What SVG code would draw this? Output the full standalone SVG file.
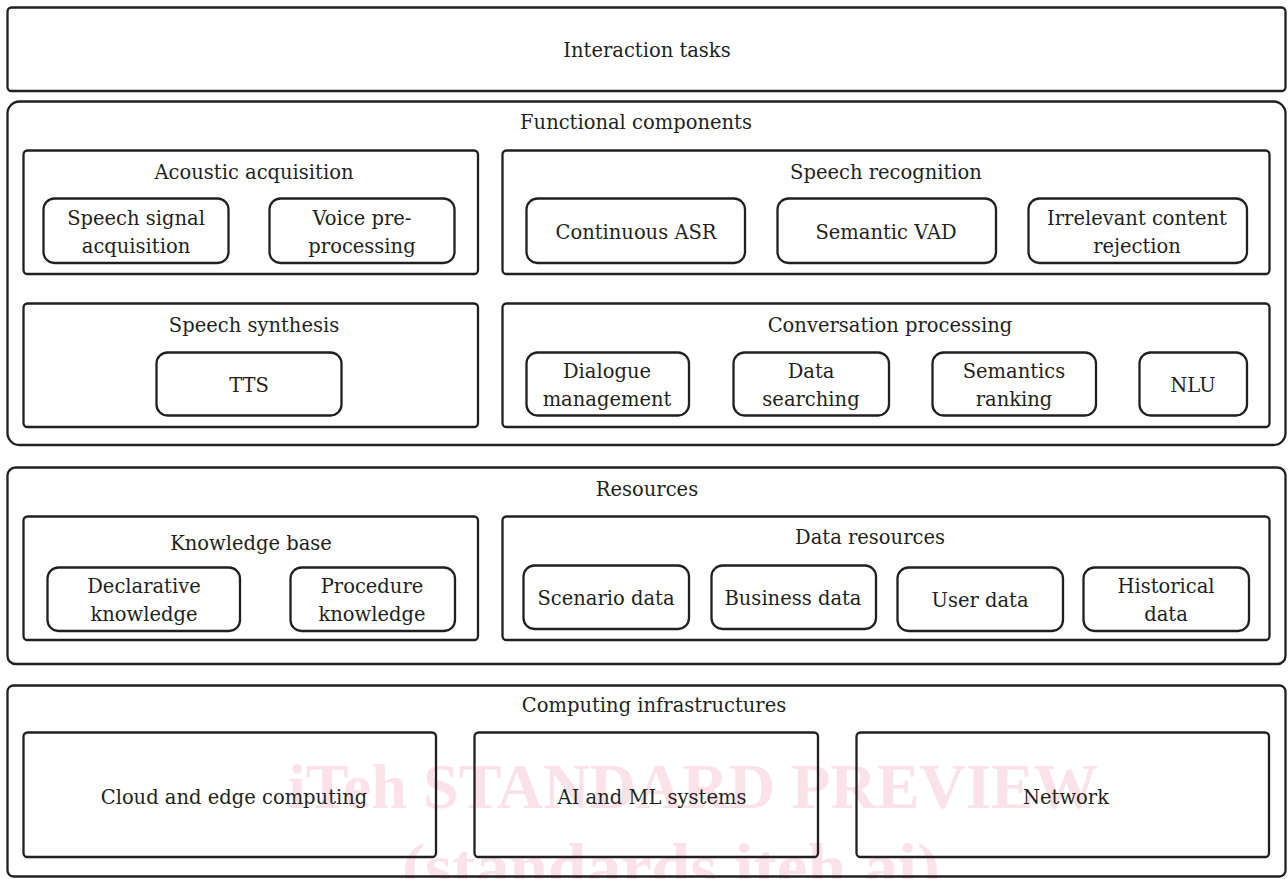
<svg xmlns="http://www.w3.org/2000/svg" width="1288" height="879" viewBox="0 0 1288 879">
<style>
.bx{fill:none;stroke:#231f20;stroke-width:2.3}
.t{font-family:"DejaVu Serif","Liberation Serif",serif;font-size:19.5px;fill:#231f20;text-anchor:middle;dominant-baseline:central}
.wm{font-family:"Liberation Serif",serif;font-weight:bold;fill:#fbe1e8;text-anchor:middle}
</style>
<rect x="0" y="0" width="1288" height="879" fill="#ffffff"/>
<g id="watermark">
<text class="wm" x="693" y="808" font-size="64" textLength="810" lengthAdjust="spacingAndGlyphs">iTeh STANDARD PREVIEW</text>
<text class="wm" x="671" y="889" font-size="66" textLength="538" lengthAdjust="spacingAndGlyphs">(standards.iteh.ai)</text>
</g>
<g id="interaction-tasks">
<rect class="bx" x="7.5" y="7.5" width="1278" height="83.5" rx="4"/>
<text class="t" x="647" y="50">Interaction tasks</text>
</g>
<g id="functional-components">
<rect class="bx" x="7.5" y="101.5" width="1278" height="343.5" rx="12"/>
<text class="t" x="636" y="122">Functional components</text>
</g>
<g id="acoustic-acquisition">
<rect class="bx" x="23.5" y="150.5" width="454.5" height="123.5" rx="4"/>
<text class="t" x="254" y="172">Acoustic acquisition</text>
</g>
<g id="speech-signal-acquisition">
<rect class="bx" x="43.5" y="198.5" width="185" height="64.5" rx="11"/>
<text class="t" x="136" y="218">Speech signal</text>
<text class="t" x="136" y="246">acquisition</text>
</g>
<g id="voice-pre-processing">
<rect class="bx" x="269.5" y="198.5" width="185" height="64.5" rx="11"/>
<text class="t" x="362" y="218">Voice pre-</text>
<text class="t" x="362" y="246">processing</text>
</g>
<g id="speech-recognition">
<rect class="bx" x="502.5" y="150.5" width="767" height="123.5" rx="4"/>
<text class="t" x="886" y="172">Speech recognition</text>
</g>
<g id="continuous-asr">
<rect class="bx" x="526.5" y="198.5" width="218.5" height="64.5" rx="11"/>
<text class="t" x="636" y="232">Continuous ASR</text>
</g>
<g id="semantic-vad">
<rect class="bx" x="777.5" y="198.5" width="218.5" height="64.5" rx="11"/>
<text class="t" x="886" y="232">Semantic VAD</text>
</g>
<g id="irrelevant-content-rejection">
<rect class="bx" x="1028.5" y="198.5" width="218.5" height="64.5" rx="11"/>
<text class="t" x="1137" y="218">Irrelevant content</text>
<text class="t" x="1137" y="246">rejection</text>
</g>
<g id="speech-synthesis">
<rect class="bx" x="23.5" y="303.5" width="454.5" height="123.5" rx="4"/>
<text class="t" x="254" y="325">Speech synthesis</text>
</g>
<g id="tts">
<rect class="bx" x="156.5" y="352.5" width="185" height="63" rx="11"/>
<text class="t" x="249" y="385">TTS</text>
</g>
<g id="conversation-processing">
<rect class="bx" x="502.5" y="303.5" width="767" height="123.5" rx="4"/>
<text class="t" x="890" y="325">Conversation processing</text>
</g>
<g id="dialogue-management">
<rect class="bx" x="526.5" y="352.5" width="162.5" height="63" rx="11"/>
<text class="t" x="607" y="371">Dialogue</text>
<text class="t" x="607" y="399">management</text>
</g>
<g id="data-searching">
<rect class="bx" x="733.5" y="352.5" width="155.5" height="63" rx="11"/>
<text class="t" x="811" y="371">Data</text>
<text class="t" x="811" y="399">searching</text>
</g>
<g id="semantics-ranking">
<rect class="bx" x="932.5" y="352.5" width="163.5" height="63" rx="11"/>
<text class="t" x="1014" y="371">Semantics</text>
<text class="t" x="1014" y="399">ranking</text>
</g>
<g id="nlu">
<rect class="bx" x="1139.5" y="352.5" width="107.5" height="63" rx="11"/>
<text class="t" x="1193" y="385">NLU</text>
</g>
<g id="resources">
<rect class="bx" x="7.5" y="467.5" width="1278" height="196.5" rx="8"/>
<text class="t" x="647" y="489">Resources</text>
</g>
<g id="knowledge-base">
<rect class="bx" x="23.5" y="516.5" width="454.5" height="123.5" rx="4"/>
<text class="t" x="251" y="543">Knowledge base</text>
</g>
<g id="declarative-knowledge">
<rect class="bx" x="47.5" y="567.5" width="192.5" height="63.5" rx="11"/>
<text class="t" x="144" y="586">Declarative</text>
<text class="t" x="144" y="614">knowledge</text>
</g>
<g id="procedure-knowledge">
<rect class="bx" x="290.5" y="567.5" width="164.5" height="63.5" rx="11"/>
<text class="t" x="372" y="586">Procedure</text>
<text class="t" x="372" y="614">knowledge</text>
</g>
<g id="data-resources">
<rect class="bx" x="502.5" y="516.5" width="767" height="123.5" rx="4"/>
<text class="t" x="870" y="537">Data resources</text>
</g>
<g id="scenario-data">
<rect class="bx" x="523.5" y="565.5" width="165.5" height="63.5" rx="11"/>
<text class="t" x="606" y="598">Scenario data</text>
</g>
<g id="business-data">
<rect class="bx" x="711.5" y="565.5" width="164.5" height="63.5" rx="11"/>
<text class="t" x="793" y="598">Business data</text>
</g>
<g id="user-data">
<rect class="bx" x="897.5" y="567.5" width="165.5" height="63.5" rx="11"/>
<text class="t" x="980" y="600">User data</text>
</g>
<g id="historical-data">
<rect class="bx" x="1083.5" y="567.5" width="165.5" height="63.5" rx="11"/>
<text class="t" x="1166" y="586">Historical</text>
<text class="t" x="1166" y="614">data</text>
</g>
<g id="computing-infrastructures">
<rect class="bx" x="7.5" y="685.5" width="1278" height="191" rx="6"/>
<text class="t" x="654" y="705">Computing infrastructures</text>
</g>
<g id="cloud-and-edge-computing">
<rect class="bx" x="23.5" y="732.5" width="412.5" height="124.5" rx="4"/>
<text class="t" x="234" y="797">Cloud and edge computing</text>
</g>
<g id="ai-and-ml-systems">
<rect class="bx" x="474.5" y="732.5" width="343.5" height="124.5" rx="4"/>
<text class="t" x="652" y="797">AI and ML systems</text>
</g>
<g id="network">
<rect class="bx" x="856.5" y="732.5" width="412.5" height="124.5" rx="4"/>
<text class="t" x="1066" y="797">Network</text>
</g>
<g id="connectors"></g>
</svg>
